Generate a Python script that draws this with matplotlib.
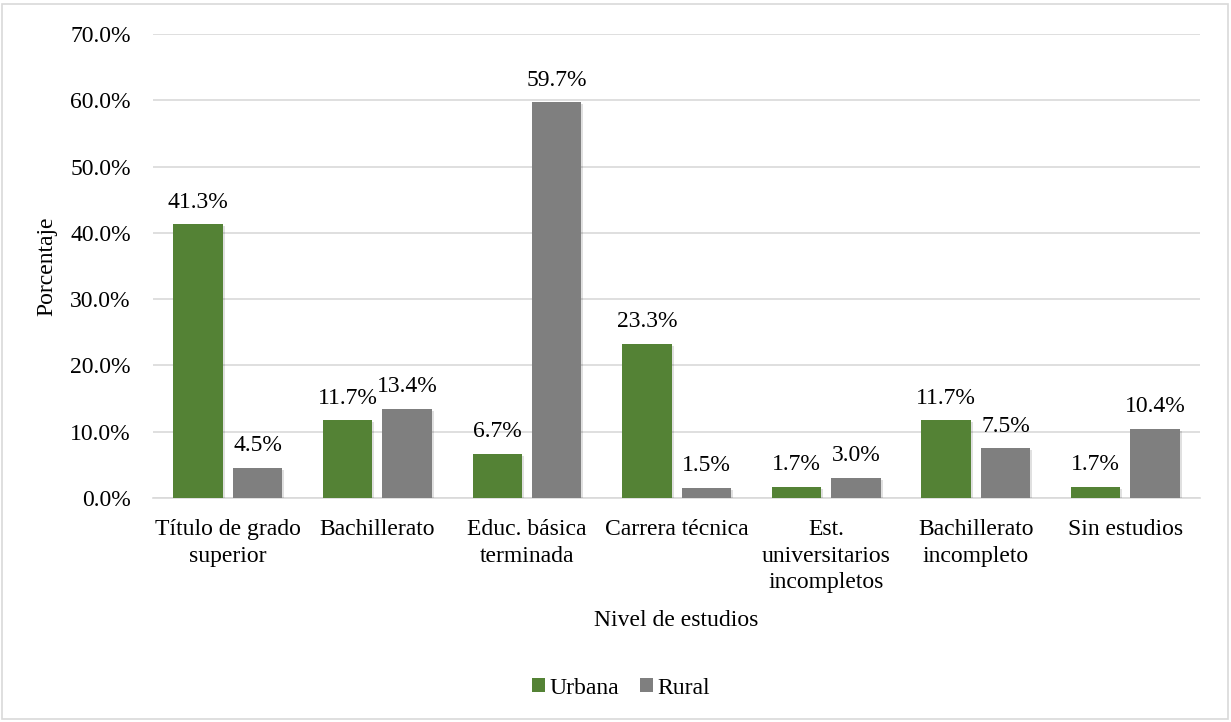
import matplotlib
matplotlib.use("Agg")
import matplotlib.pyplot as plt
import matplotlib.patheffects as pe
from matplotlib.patches import Rectangle
import numpy as np

categories = ["Título de grado\nsuperior", "Bachillerato", "Educ. básica\nterminada",
              "Carrera técnica", "Est.\nuniversitarios\nincompletos",
              "Bachillerato\nincompleto", "Sin estudios"]
urbana = [41.3, 11.7, 6.7, 23.3, 1.7, 11.7, 1.7]
rural = [4.5, 13.4, 59.7, 1.5, 3.0, 7.5, 10.4]
yticks = [0, 10, 20, 30, 40, 50, 60, 70]

green = "#548235"
gray = "#7F7F7F"
FS = 17

plt.rcParams['font.family'] = ['Liberation Serif', 'DejaVu Serif']

fig = plt.figure(figsize=(12.31, 7.22), dpi=100)
left, right = 0.1243, 0.975
ax = fig.add_axes([left, 0.3103, right - left, 0.6426])

x = np.arange(len(categories))
w = 0.33
gap = 0.067
shadow = [pe.SimplePatchShadow(offset=(1.5, -1.5), shadow_rgbFace="#000000", alpha=0.12),
          pe.Normal()]
b1 = ax.bar(x - (w + gap) / 2, urbana, w, color=green, label="Urbana", zorder=3)
b2 = ax.bar(x + (w + gap) / 2, rural, w, color=gray, label="Rural", zorder=3)
for bars in (b1, b2):
    for p in bars:
        p.set_path_effects(shadow)

for bars, vals in ((b1, urbana), (b2, rural)):
    for p, v in zip(bars, vals):
        ax.annotate(f"{v:.1f}%", (p.get_x() + p.get_width() / 2, v),
                    xytext=(0, 12), textcoords="offset points",
                    ha="center", va="baseline", fontsize=FS, color="#000000")

ax.set_xlim(-0.5, len(categories) - 0.5)
ax.set_ylim(0, 70)
ax.set_yticks(yticks)
ax.set_yticklabels([f"{t:.1f}%" for t in yticks], fontsize=FS)
ax.set_xticks(x)
ax.set_xticklabels(categories, fontsize=FS, linespacing=1.34, va="top")
ax.tick_params(axis="both", length=0)
ax.tick_params(axis="x", pad=15.5)
ax.tick_params(axis="y", pad=16)
ax.yaxis.grid(True, color="#D9D9D9", linewidth=1.2, zorder=0)
ax.set_axisbelow(True)
for s in ("top", "right", "left"):
    ax.spines[s].set_visible(False)
ax.spines["bottom"].set_color("#D9D9D9")
ax.spines["bottom"].set_linewidth(1.2)

ax.set_ylabel("Porcentaje", fontsize=FS, labelpad=9)
cx = 0.5 * (left + right)
fig.text(cx, 1 - 620 / 722, "Nivel de estudios", ha="center", va="center", fontsize=FS)

leg = fig.legend(handles=[b1, b2], labels=["Urbana", "Rural"], loc="center",
                 bbox_to_anchor=(621 / 1231, 1 - 688 / 722), ncol=2,
                 frameon=False, fontsize=FS, handlelength=0.55, handleheight=0.55,
                 handletextpad=0.2, columnspacing=0.85, borderpad=0, borderaxespad=0)
for h in leg.legend_handles:
    h.set_path_effects([])

fig.patches.append(Rectangle((2.5 / 1231, 3.5 / 722), 1 - 6 / 1231, 1 - 7 / 722,
                             transform=fig.transFigure, fill=False,
                             edgecolor="#D9D9D9", linewidth=1.2))

fig.savefig("out.png", dpi=100)
